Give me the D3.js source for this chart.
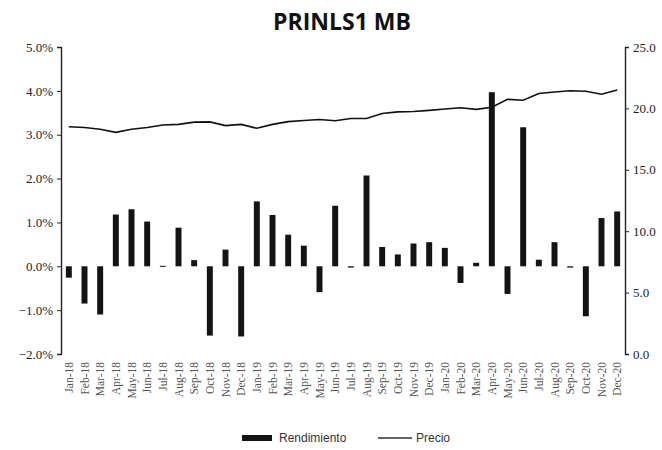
<!DOCTYPE html>
<html>
<head>
<meta charset="utf-8">
<script src="https://cdn.jsdelivr.net/npm/d3@7"></script>
<style>
  html, body { margin: 0; padding: 0; background: #fff; }
  svg { display: block; }
</style>
</head>
<body>
<svg id="chart" width="662" height="450"></svg>
<script>
const categories = ["Jan-18","Feb-18","Mar-18","Apr-18","May-18","Jun-18","Jul-18","Aug-18","Sep-18","Oct-18","Nov-18","Dec-18",
  "Jan-19","Feb-19","Mar-19","Apr-19","May-19","Jun-19","Jul-19","Aug-19","Sep-19","Oct-19","Nov-19","Dec-19",
  "Jan-20","Feb-20","Mar-20","Apr-20","May-20","Jun-20","Jul-20","Aug-20","Sep-20","Oct-20","Nov-20","Dec-20"];
// Rendimiento (%)
const rendimiento = [-0.26,-0.85,-1.10,1.18,1.30,1.02,0.01,0.88,0.14,-1.58,0.38,-1.60,
  1.48,1.17,0.72,0.47,-0.59,1.38,-0.03,2.07,0.44,0.27,0.52,0.55,
  0.42,-0.38,0.08,3.97,-0.63,3.17,0.15,0.55,-0.03,-1.14,1.10,1.25];
// Precio
const precio = [18.5,18.45,18.3,18.05,18.3,18.45,18.65,18.7,18.88,18.9,18.6,18.7,
  18.38,18.7,18.92,19.02,19.1,19.0,19.18,19.18,19.58,19.72,19.75,19.84,
  19.95,20.05,19.92,20.1,20.74,20.66,21.22,21.34,21.44,21.4,21.15,21.5];
const leftTicks = [-0.02,-0.01,0,0.01,0.02,0.03,0.04,0.05];
const rightTicks = [0,5,10,15,20,25];
const title = "PRINLS1 MB";
const seriesNames = ["Rendimiento","Precio"];

const svg = d3.select("#chart");
const m = {left: 61, right: 625, top: 47, bottom: 354};

const x = d3.scaleBand().domain(categories).range([m.left, m.right]).paddingInner(0.62).paddingOuter(0.31);
const yL = d3.scaleLinear().domain([-0.02, 0.05]).range([m.bottom, m.top]);
const yR = d3.scaleLinear().domain([0, 25]).range([m.bottom, m.top]);

// Title
svg.append("text").attr("x", 342).attr("y", 30).attr("text-anchor", "middle")
  .style("font-family", "'Open Sans', 'Liberation Sans', sans-serif").style("font-weight", 700)
  .style("font-size", "23px").attr("fill", "#111").text(title);

// Bars
svg.append("g").selectAll("rect").data(categories).join("rect")
  .attr("x", d => x(d))
  .attr("width", x.bandwidth())
  .attr("y", (d, i) => yL(Math.max(0, rendimiento[i] / 100)))
  .attr("height", (d, i) => Math.max(1, Math.abs(yL(rendimiento[i] / 100) - yL(0))))
  .attr("fill", "#141414");

// Line
const line = d3.line().x((d, i) => x(categories[i]) + x.bandwidth() / 2).y(d => yR(d)).curve(d3.curveLinear);
svg.append("path").datum(precio).attr("d", line).attr("fill", "none")
  .attr("stroke", "#111").attr("stroke-width", 1.6);

// Axes
const tickFont = "'Liberation Serif', 'DejaVu Serif', serif";
const gL = svg.append("g").attr("transform", `translate(${m.left},0)`)
  .call(d3.axisLeft(yL).tickValues(leftTicks).tickFormat(d3.format(".1%")).tickSize(4).tickSizeOuter(4).tickPadding(4));
const gR = svg.append("g").attr("transform", `translate(${m.right},0)`)
  .call(d3.axisRight(yR).tickValues(rightTicks).tickFormat(d3.format(".1f")).tickSize(4).tickSizeOuter(4).tickPadding(4));
[gL, gR].forEach(g => {
  g.select(".domain").attr("stroke", "#222").attr("stroke-width", 1.4);
  g.selectAll(".tick line").attr("stroke", "#222");
  g.selectAll("text").style("font-family", tickFont).style("font-size", "13px").attr("fill", "#222");
});

// X labels (rotated)
const gX = svg.append("g").attr("transform", `translate(0,${m.bottom})`)
  .call(d3.axisBottom(x).tickSize(0).tickPadding(0));
gX.select(".domain").remove();
gX.selectAll("text")
  .attr("transform", "rotate(-90)")
  .attr("x", -8).attr("y", 0).attr("dy", "0.35em")
  .attr("text-anchor", "end")
  .style("font-family", tickFont).style("font-size", "11.5px").attr("fill", "#555");

// Legend
const lg = svg.append("g");
lg.append("rect").attr("x", 242).attr("y", 435).attr("width", 30).attr("height", 6).attr("fill", "#141414");
lg.append("text").attr("x", 279).attr("y", 442).text(seriesNames[0])
  .style("font-family", "'Liberation Sans', sans-serif").style("font-size", "12px").attr("fill", "#333");
lg.append("line").attr("x1", 378).attr("x2", 412).attr("y1", 438).attr("y2", 438).attr("stroke", "#333").attr("stroke-width", 1.3);
lg.append("text").attr("x", 416).attr("y", 442).text(seriesNames[1])
  .style("font-family", "'Liberation Sans', sans-serif").style("font-size", "12px").attr("fill", "#333");
</script>
</body>
</html>
